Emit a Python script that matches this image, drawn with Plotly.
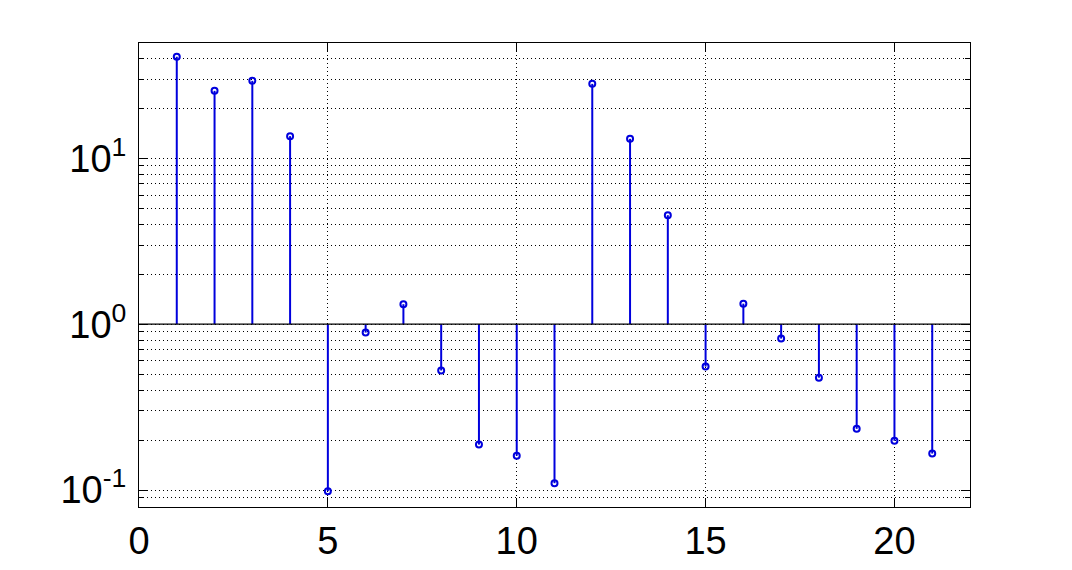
import plotly.graph_objects as go

indices = list(range(1, 22))
valores = [40.9, 25.5, 29.3, 13.6, 0.0985, 0.89, 1.32, 0.526, 0.188, 0.161, 0.110,
           28.1, 13.1, 4.54, 0.555, 1.33, 0.819, 0.476, 0.234, 0.198, 0.166]
base = 1

y_ticks = [0.1, 1, 10]
y_labels = ["10<sup>-1</sup>", "10<sup>0</sup>", "10<sup>1</sup>"]

azul = "#0000dd"

# hastes: do valor base ate cada ponto
hx, hy = [], []
for x, v in zip(indices, valores):
    hx += [x, x, None]
    hy += [base, v, None]

fig = go.Figure()
fig.add_trace(go.Scatter(x=hx, y=hy, mode="lines",
                         line=dict(color=azul, width=2), hoverinfo="skip"))
fig.add_trace(go.Scatter(x=indices, y=valores, mode="markers",
                         marker=dict(symbol="circle-open", size=6, color=azul,
                                     line=dict(width=2, color=azul))))

fig.add_shape(type="line", xref="paper", x0=0, x1=1, yref="y", y0=base, y1=base,
              line=dict(color="black", width=1.2))

pontilhado = "1px,3px"
eixo = dict(showline=True, linecolor="black", linewidth=1, mirror="ticks",
            ticks="inside", ticklen=9, tickcolor="black",
            showgrid=True, gridcolor="black", gridwidth=1, griddash=pontilhado,
            zeroline=False)

fig.update_xaxes(range=[0, 22], tickvals=[0, 5, 10, 15, 20], **eixo)
fig.update_yaxes(type="log", range=[-1.102, 1.695], tickvals=y_ticks, ticktext=y_labels,
                 ticklabelstandoff=4,
                 minor=dict(dtick="D1", ticks="inside", ticklen=5, tickcolor="black",
                            showgrid=True, gridcolor="black", gridwidth=1,
                            griddash=pontilhado),
                 **eixo)

fig.update_layout(
    width=1072, height=570,
    margin=dict(l=131, r=110, t=35, b=71),
    paper_bgcolor="white", plot_bgcolor="white",
    font=dict(family="Liberation Sans", size=38, color="black"),
    showlegend=False,
)

fig.write_html("out.html")
